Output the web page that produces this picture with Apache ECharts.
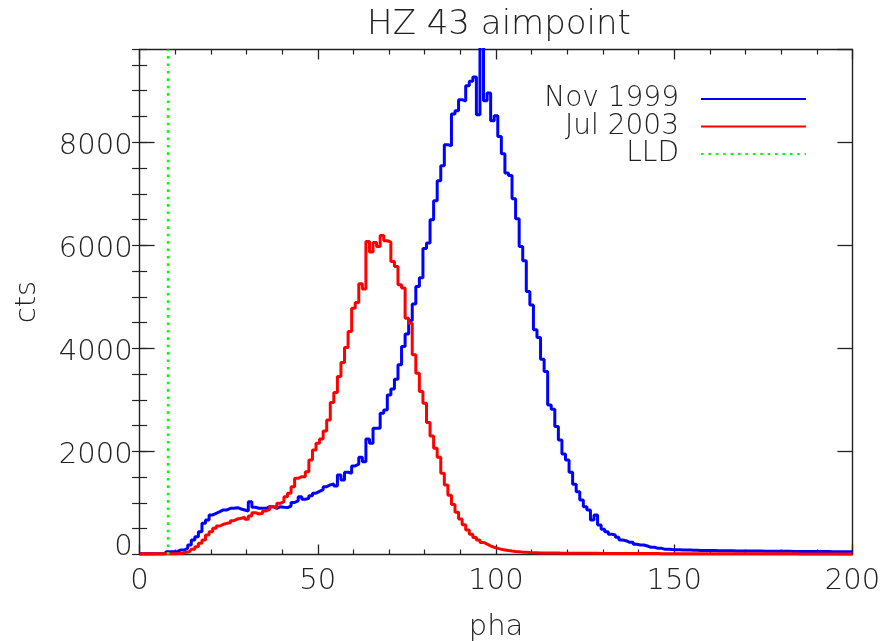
<!DOCTYPE html>
<html>
<head>
<meta charset="utf-8">
<script src="https://cdn.jsdelivr.net/npm/echarts@6/dist/echarts.min.js"></script>
<style>
html,body{margin:0;padding:0;background:#fff;}
#chart{width:881px;height:641px;}
</style>
</head>
<body>
<div id="chart"></div>
<script>
// ---- data ----
const titleText = 'HZ 43 aimpoint';
const xName = 'pha';
const yName = 'cts';
const seriesNames = ['Nov 1999', 'Jul 2003', 'LLD'];
const phaStart = 0;            // first histogram bin (pha)
const xMin = 0, xMax = 200, xTickStep = 50;
const yMin = 0, yMax = 9800, yTickStep = 2000, yMinorStep = 500;
const lldPha = 8;

// counts per pha bin, pha = 0 .. 200
const nov1999 = [
  15, 15, 15, 15, 15, 15, 15, 15, 55, 55,
  55, 87, 87, 120, 185, 282, 346, 443, 605, 670,
  767, 800, 831, 864, 864, 897, 897, 909, 883, 864,
  845, 1025, 916, 897, 897, 897, 928, 928, 897, 928,
  916, 910, 940, 1010, 1040, 1122, 1072, 1090, 1140, 1190,
  1225, 1260, 1317, 1350, 1370, 1330, 1544, 1447, 1596, 1577,
  1719, 1752, 1888, 1802, 2243, 2159, 2451, 2451, 2742, 2806,
  3097, 3214, 3402, 3680, 4035, 4280, 4540, 4860, 5200, 5370,
  5940, 6043, 6496, 6865, 7253, 7545, 7953, 7930, 8549, 8613,
  8827, 8800, 9098, 9182, 9267, 8535, 9950, 8807, 8956, 8419,
  8516, 8114, 7778, 7403, 7356, 6904, 6515, 5977, 5700, 5104,
  4840, 4360, 4210, 3791, 3550, 2903, 2820, 2482, 2224, 1952,
  1835, 1596, 1363, 1220, 1058, 928, 864, 670, 767, 573,
  489, 443, 392, 379, 334, 282, 268, 237, 237, 198,
  184, 184, 165, 140, 140, 120, 120, 100, 100, 95,
  92, 90, 88, 86, 85, 83, 82, 80, 80, 78,
  77, 76, 75, 74, 73, 72, 71, 70, 70, 69,
  68, 67, 67, 66, 66, 65, 64, 64, 63, 63,
  62, 62, 61, 60, 60, 59, 59, 58, 58, 57,
  57, 57, 56, 56, 55, 55, 55, 54, 54, 53,
  53
];
const jul2003 = [
  15, 15, 15, 15, 15, 15, 15, 15, 15, 15,
  15, 20, 20, 45, 55, 100, 152, 217, 282, 378,
  443, 508, 553, 586, 605, 618, 657, 690, 702, 722,
  683, 748, 812, 786, 800, 845, 877, 928, 909, 993,
  1025, 1122, 1188, 1317, 1479, 1511, 1511, 1608, 1835, 2029,
  2159, 2243, 2398, 2612, 2948, 3142, 3453, 3725, 4016, 4327,
  4781, 4890, 5253, 5150, 6075, 5869, 6055, 5977, 6191, 6088,
  6063, 5686, 5589, 5234, 5170, 4587, 4490, 3874, 3519, 3162,
  2936, 2560, 2301, 2062, 1888, 1577, 1350, 1150, 970, 820,
  690, 575, 475, 395, 330, 280, 235, 200, 165, 140,
  120, 100, 88, 76, 66, 58, 52, 46, 42, 38,
  35, 33, 31, 30, 29, 28, 27, 27, 26, 26,
  25, 25, 24, 24, 23, 23, 22, 22, 22, 21,
  21, 21, 20, 20, 20, 19, 19, 19, 18, 18,
  18, 18, 17, 17, 17, 17, 16, 16, 16, 16,
  16, 16, 15, 15, 15, 15, 15, 15, 15, 15,
  15, 15, 15, 14, 14, 14, 14, 14, 14, 14,
  14, 14, 14, 14, 13, 13, 13, 13, 13, 13,
  13, 13, 13, 13, 13, 12, 12, 12, 12, 12,
  12, 12, 12, 12, 12, 12, 12, 12, 12, 12,
  12
];

// ---- chart ----
const FONT = '"DejaVu Sans ExtraLight", "DejaVu Sans", sans-serif';
const TXT = '#222';
const textBase = { fontFamily: FONT, fontWeight: 200, color: TXT, fontSize: 29 };

const toPairs = arr => arr.map((v, i) => [phaStart + i, v]);

const baseX = {
  type: 'value', min: xMin, max: xMax, interval: xTickStep,
  splitLine: { show: false },
  axisLine: { show: true, onZero: false, lineStyle: { color: TXT, width: 1.4 } },
  axisTick: { show: true, inside: true, length: 10, lineStyle: { color: TXT, width: 1.3 } },
  minorTick: { show: true, splitNumber: 5, length: 5, lineStyle: { color: TXT, width: 1.2 } }
};
const majorY = {
  type: 'value', min: yMin, max: yMax, interval: yTickStep,
  splitLine: { show: false },
  axisLine: { show: true, onZero: false, lineStyle: { color: TXT, width: 1.4 } },
  axisTick: { show: true, inside: true, length: 15, lineStyle: { color: TXT, width: 1.3 } }
};
const minorY = {
  type: 'value', min: yMin, max: yMax, interval: yMinorStep,
  splitLine: { show: false },
  axisLine: { show: false },
  axisLabel: { show: false },
  axisTick: { show: true, inside: true, length: 7.5, lineStyle: { color: TXT, width: 1.2 } }
};

const legendBase = {
  orient: 'horizontal', align: 'right', right: 69,
  itemWidth: 105, itemHeight: 14, itemGap: 0,
  itemStyle: { opacity: 0 },
  textStyle: Object.assign({}, textBase, { fontSize: 28, lineHeight: 28, padding: [4, 17, 0, 0] })
};

const option = {
  animation: false,
  backgroundColor: '#fff',
  title: {
    text: titleText, left: 494, top: 3, textAlign: 'center',
    textStyle: Object.assign({}, textBase, { fontSize: 34 })
  },
  legend: [
    Object.assign({}, legendBase, { data: [seriesNames[0]], top: 78 }),
    Object.assign({}, legendBase, { data: [seriesNames[1]], top: 105.5 }),
    Object.assign({}, legendBase, { data: [seriesNames[2]], top: 133 })
  ],
  grid: {
    left: 139.6, right: 28.6, top: 49.5, bottom: 86.5,
    containLabel: false, outerBoundsMode: 'none'
  },
  xAxis: [
    Object.assign({}, baseX, {
      position: 'bottom',
      axisLabel: Object.assign({}, textBase, { margin: 12 }),
      name: xName, nameLocation: 'middle', nameGap: 58,
      nameTextStyle: textBase
    }),
    Object.assign({}, baseX, { position: 'top', axisLabel: { show: false } })
  ],
  yAxis: [
    Object.assign({}, majorY, {
      position: 'left',
      axisLabel: Object.assign({}, textBase, {
        margin: 7, showMaxLabel: false, padding: [8, 0, 0, 0],
        formatter: v => (v === 0 ? '{z|0}' : String(v)),
        rich: { z: Object.assign({}, textBase, { padding: [0, 0, 22, 0] }) }
      }),
      name: yName, nameLocation: 'middle', nameGap: 98, nameRotate: 90,
      nameTextStyle: textBase
    }),
    Object.assign({}, minorY, { position: 'left' }),
    Object.assign({}, majorY, { position: 'right', axisLabel: { show: false } }),
    Object.assign({}, minorY, { position: 'right' })
  ],
  series: [
    {
      name: seriesNames[0], type: 'line', step: 'middle', symbol: 'none',
      xAxisIndex: 0, yAxisIndex: 0,
      data: toPairs(nov1999),
      lineStyle: { color: '#0000ff', width: 3 }, itemStyle: { color: '#0000ff' },
      z: 3
    },
    {
      name: seriesNames[1], type: 'line', step: 'middle', symbol: 'none',
      xAxisIndex: 0, yAxisIndex: 0,
      data: toPairs(jul2003),
      lineStyle: { color: '#ff0000', width: 3 }, itemStyle: { color: '#ff0000' },
      z: 4
    },
    {
      name: seriesNames[2], type: 'line', symbol: 'none',
      xAxisIndex: 0, yAxisIndex: 0,
      data: [[lldPha, yMin], [lldPha, yMax]],
      lineStyle: { color: '#00ff00', width: 2.6, type: [2.6, 4.8] }, itemStyle: { color: '#00ff00' },
      z: 5
    }
  ]
};

const chart = echarts.init(document.getElementById('chart'), null, { renderer: 'canvas' });
chart.setOption(option);
</script>
</body>
</html>
